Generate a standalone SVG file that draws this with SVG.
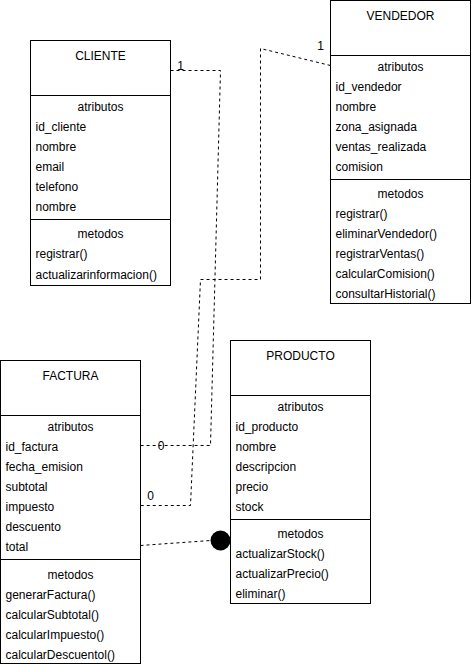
<svg xmlns="http://www.w3.org/2000/svg" width="471" height="664" viewBox="0 0 471 664">
<style>
text{font-family:"Liberation Sans",Arial,sans-serif;font-size:12px;fill:#000}
.c{text-anchor:middle}
.box{fill:#fff;stroke:#000;stroke-width:1}
.sep{stroke:#000;stroke-width:1}
.edge{fill:none;stroke:#000;stroke-width:1;stroke-dasharray:3 3}
</style>
<rect width="471" height="664" fill="#fff"/>
<g id="cliente">
<rect class="box" x="30.5" y="40.5" width="140" height="245"/>
<line class="sep" x1="30.5" y1="95.5" x2="170.5" y2="95.5"/>
<line class="sep" x1="30.5" y1="219.5" x2="170.5" y2="219.5"/>
<text class="c" x="100.5" y="59.5">CLIENTE</text>
<text class="c" x="100.5" y="110.5">atributos</text>
<text x="35.5" y="130.5">id_cliente</text>
<text x="35.5" y="150.5">nombre</text>
<text x="35.5" y="170.5">email</text>
<text x="35.5" y="190.5">telefono</text>
<text x="35.5" y="210.5">nombre</text>
<text class="c" x="100.5" y="237.5">metodos</text>
<text x="35.5" y="257.5">registrar()</text>
<text x="35.5" y="278.5">actualizarinformacion()</text>
</g>
<g id="vendedor">
<rect class="box" x="330.5" y="0.5" width="140" height="303"/>
<line class="sep" x1="330.5" y1="55.5" x2="470.5" y2="55.5"/>
<line class="sep" x1="330.5" y1="179.5" x2="470.5" y2="179.5"/>
<text class="c" x="400.5" y="19.5">VENDEDOR</text>
<text class="c" x="400.5" y="70.5">atributos</text>
<text x="335.5" y="90.5">id_vendedor</text>
<text x="335.5" y="110.5">nombre</text>
<text x="335.5" y="130.5">zona_asignada</text>
<text x="335.5" y="150.5">ventas_realizada</text>
<text x="335.5" y="170.5">comision</text>
<text class="c" x="400.5" y="197.5">metodos</text>
<text x="335.5" y="217.5">registrar()</text>
<text x="335.5" y="237.5">eliminarVendedor()</text>
<text x="335.5" y="257.5">registrarVentas()</text>
<text x="335.5" y="277.5">calcularComision()</text>
<text x="335.5" y="297.5">consultarHistorial()</text>
</g>
<g id="factura">
<rect class="box" x="0.5" y="360.5" width="140" height="303"/>
<line class="sep" x1="0.5" y1="415.5" x2="140.5" y2="415.5"/>
<line class="sep" x1="0.5" y1="559.5" x2="140.5" y2="559.5"/>
<text class="c" x="70.5" y="379.5">FACTURA</text>
<text class="c" x="70.5" y="430.5">atributos</text>
<text x="5.5" y="450.5">id_factura</text>
<text x="5.5" y="470.5">fecha_emision</text>
<text x="5.5" y="490.5">subtotal</text>
<text x="5.5" y="510.5">impuesto</text>
<text x="5.5" y="530.5">descuento</text>
<text x="5.5" y="550.5">total</text>
<text class="c" x="70.5" y="578.5">metodos</text>
<text x="5.5" y="598.5">generarFactura()</text>
<text x="5.5" y="618.5">calcularSubtotal()</text>
<text x="5.5" y="638.5">calcularImpuesto()</text>
<text x="5.5" y="658.5">calcularDescuentol()</text>
</g>
<g id="producto">
<rect class="box" x="230.5" y="340.5" width="140" height="263"/>
<line class="sep" x1="230.5" y1="395.5" x2="370.5" y2="395.5"/>
<line class="sep" x1="230.5" y1="519.5" x2="370.5" y2="519.5"/>
<text class="c" x="300.5" y="359.5">PRODUCTO</text>
<text class="c" x="300.5" y="410.5">atributos</text>
<text x="235.5" y="430.5">id_producto</text>
<text x="235.5" y="450.5">nombre</text>
<text x="235.5" y="470.5">descripcion</text>
<text x="235.5" y="490.5">precio</text>
<text x="235.5" y="510.5">stock</text>
<text class="c" x="300.5" y="537.5">metodos</text>
<text x="235.5" y="557.5">actualizarStock()</text>
<text x="235.5" y="577.5">actualizarPrecio()</text>
<text x="235.5" y="597.5">eliminar()</text>
</g>
<g id="connectors">
<path class="edge" d="M170.5,70.5 L220.5,70.5 L210.5,445.5 L140.5,445.5"/>
<text class="c" x="180.5" y="69.5">1</text>
<text class="c" x="161" y="449.5">0</text>
<path class="edge" d="M330.5,65.5 L260.5,48.5 L260.5,279.5 L200.5,279.5 L190.5,505.5 L140.5,505.5"/>
<text class="c" x="320.5" y="49.5">1</text>
<text class="c" x="150.5" y="500">0</text>
<path class="edge" d="M140.5,545.5 L210.5,540.5"/>
<circle cx="220.5" cy="540.5" r="10" fill="#000"/>
</g>
</svg>
